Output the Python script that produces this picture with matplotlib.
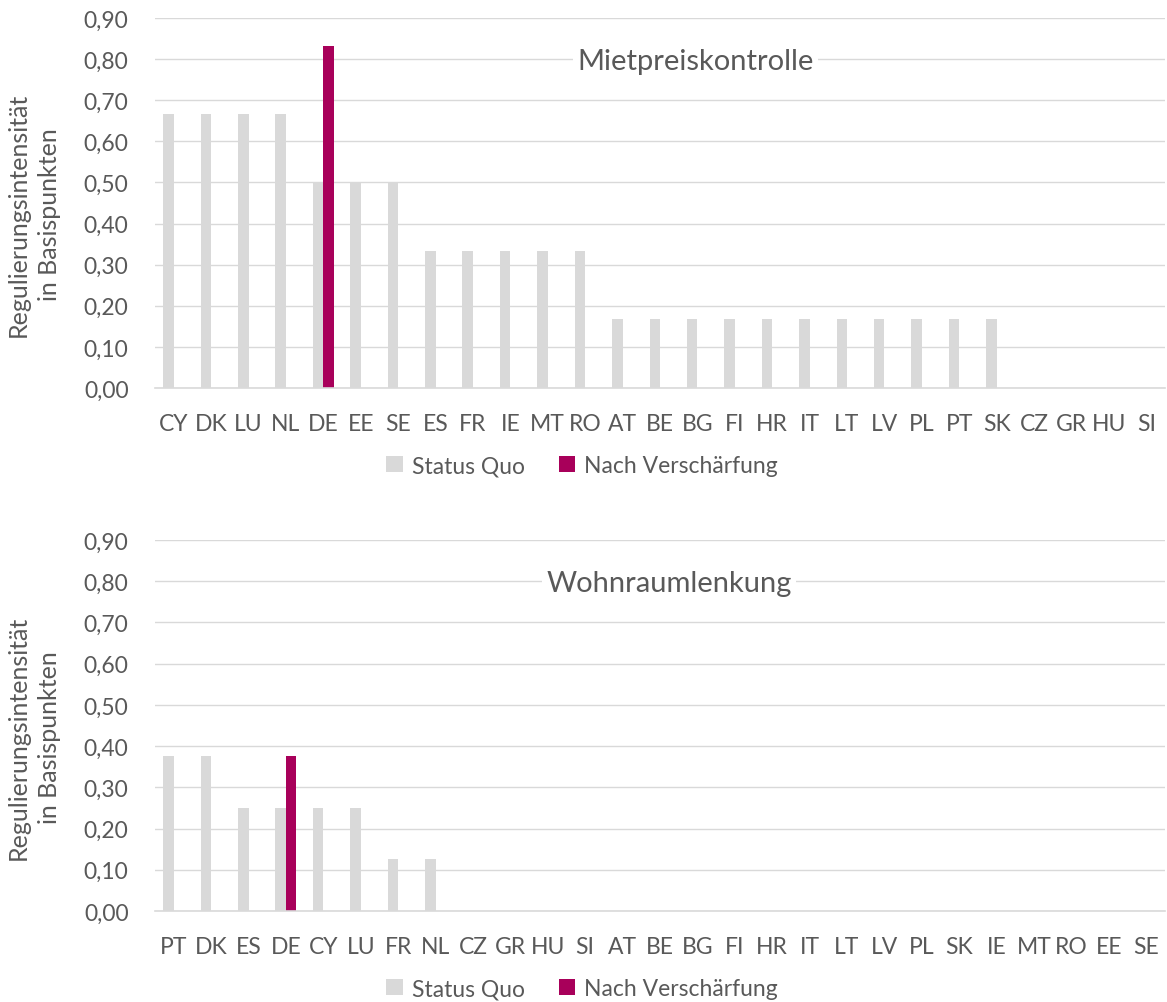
import matplotlib
matplotlib.use("Agg")
import matplotlib.pyplot as plt
import numpy as np
from matplotlib.patches import Patch

# ---- data ----
cats_top = ["CY", "DK", "LU", "NL", "DE", "EE", "SE", "ES", "FR", "IE", "MT", "RO",
            "AT", "BE", "BG", "FI", "HR", "IT", "LT", "LV", "PL", "PT", "SK",
            "CZ", "GR", "HU", "SI"]
status_top = [0.667, 0.667, 0.667, 0.667, 0.5, 0.5, 0.5, 0.333, 0.333, 0.333, 0.333, 0.333,
              0.167, 0.167, 0.167, 0.167, 0.167, 0.167, 0.167, 0.167, 0.167, 0.167, 0.167,
              0, 0, 0, 0]
nach_top = [0, 0, 0, 0, 0.833, 0, 0, 0, 0, 0, 0, 0,
            0, 0, 0, 0, 0, 0, 0, 0, 0, 0, 0,
            0, 0, 0, 0]

cats_bot = ["PT", "DK", "ES", "DE", "CY", "LU", "FR", "NL", "CZ", "GR", "HU", "SI",
            "AT", "BE", "BG", "FI", "HR", "IT", "LT", "LV", "PL", "SK", "IE", "MT",
            "RO", "EE", "SE"]
status_bot = [0.375, 0.375, 0.25, 0.25, 0.25, 0.25, 0.125, 0.125, 0, 0, 0, 0,
              0, 0, 0, 0, 0, 0, 0, 0, 0, 0, 0, 0, 0, 0, 0]
nach_bot = [0, 0, 0, 0.375, 0, 0, 0, 0, 0, 0, 0, 0,
            0, 0, 0, 0, 0, 0, 0, 0, 0, 0, 0, 0, 0, 0, 0]

titles = ["Mietpreiskontrolle", "Wohnraumlenkung"]
series_names = ["Status Quo", "Nach Verschärfung"]
yticks = [0.0, 0.1, 0.2, 0.3, 0.4, 0.5, 0.6, 0.7, 0.8, 0.9]
ylabel = "Regulierungsintensität\nin Basispunkten"

# ---- style ----
plt.rcParams['font.family'] = ['Lato', 'DejaVu Sans']
GREY = "#D9D9D9"
RED = "#A8005A"
TXT = "#595959"

fig = plt.figure(figsize=(11.67, 10.03), dpi=100)
W, H = 1167, 1003
axes_px = [(155, 19, 1165, 389), (155, 541, 1165, 912)]
title_pos = [(0.535, 0.884), (0.509, 0.884)]

data = [(cats_top, status_top, nach_top), (cats_bot, status_bot, nach_bot)]

for i, (cats, st, na) in enumerate(data):
    l, t, r, b = axes_px[i]
    ax = fig.add_axes([l / W, 1 - b / H, (r - l) / W, (b - t) / H])
    x = np.arange(len(cats))
    w = 0.28
    ax.bar(x - w / 2, st, width=w, color=GREY, zorder=2)
    ax.bar(x + w / 2, na, width=w, color=RED, zorder=2)
    ax.set_xlim(-0.5, len(cats) - 0.5)
    ax.set_ylim(0, 0.9)
    ax.set_yticks(yticks)
    ax.set_yticklabels([f"{v:.2f}".replace(".", ",") for v in yticks])
    ax.set_xticks(x)
    ax.set_xticklabels(cats)
    ax.tick_params(axis='both', length=0, labelsize=16.5, colors=TXT)
    ax.tick_params(axis='x', pad=18)
    ax.tick_params(axis='y', pad=19)
    for s in ["top", "right", "left"]:
        ax.spines[s].set_visible(False)
    ax.spines["bottom"].set_color(GREY)
    ax.spines["bottom"].set_linewidth(1.2)
    ax.grid(axis='y', color=GREY, linewidth=1.0, zorder=0)
    ax.set_axisbelow(True)
    ax.set_ylabel(ylabel, fontsize=18, color=TXT, linespacing=1.45)
    ax.yaxis.set_label_coords(-0.093, 0.47)
    tx, ty = title_pos[i]
    ax.text(tx, ty, titles[i], transform=ax.transAxes, ha='center', va='center',
            fontsize=21, color=TXT, zorder=5,
            bbox=dict(facecolor='white', edgecolor='none', pad=3))
    handles = [Patch(facecolor=GREY, label=series_names[0]),
               Patch(facecolor=RED, label=series_names[1])]
    leg = ax.legend(handles=handles, loc='center', bbox_to_anchor=(0.423, -0.21),
                    ncol=2, frameon=False, fontsize=16.5, handlelength=0.7,
                    handleheight=0.7, handletextpad=0.4, columnspacing=1.5)
    for txt in leg.get_texts():
        txt.set_color(TXT)

fig.savefig("out.png", dpi=100, facecolor='white')
